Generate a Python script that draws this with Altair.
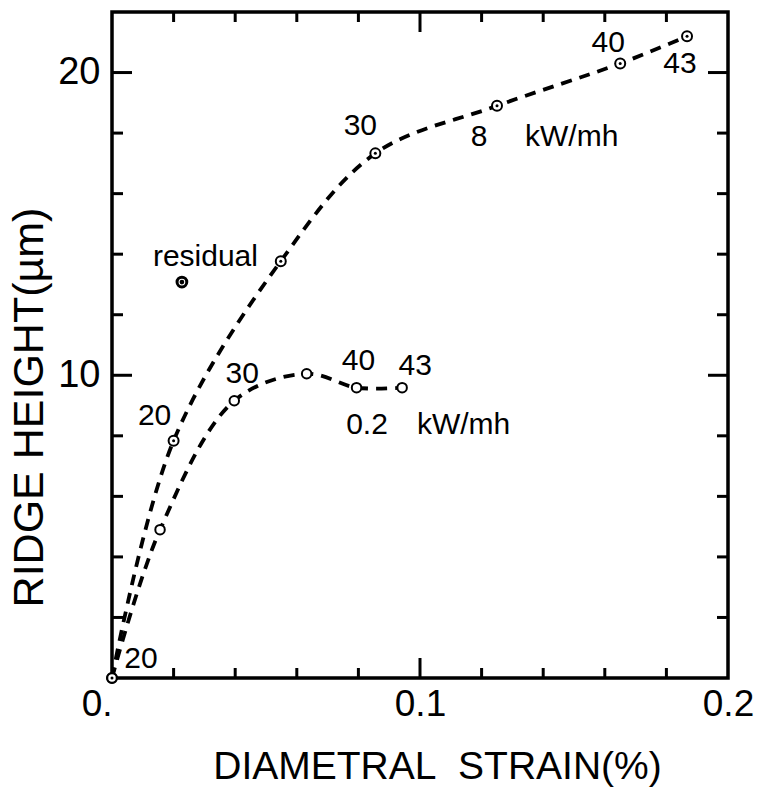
import altair as alt
import pandas as pd

# 8 kW/mh curve: diametral strain (%) vs ridge height (um)
hi_strain = [0.0, 0.0200, 0.0548, 0.0855, 0.1250, 0.1650, 0.1867]
hi_height = [0.0, 7.84, 13.77, 17.33, 18.90, 20.30, 21.20]
hi_tags = ["", "20", "", "30", "", "40", "43"]

# 0.2 kW/mh curve
lo_strain = [0.0, 0.0156, 0.0397, 0.0632, 0.0794, 0.0942]
lo_height = [0.0, 4.90, 9.16, 10.05, 9.59, 9.59]
lo_tags = ["20", "", "30", "", "40", "43"]

# residual measurement
res_strain = [0.0227]
res_height = [13.08]

# power levels written beside each curve
power_text = ["8", "0.2"]
power_strain = [0.1192, 0.0828]
power_height = [17.87, 8.36]
unit_text = ["kW/mh", "kW/mh"]
unit_strain = [0.1341, 0.0990]

x_ticks_minor = [0.02, 0.04, 0.06, 0.08, 0.12, 0.14, 0.16, 0.18]
x_ticks_major = [0.1]
y_ticks_minor = [2, 4, 6, 8, 12, 14, 16, 18]
y_ticks_major = [10, 20]

W, H = 616, 666
FONT = "Liberation Sans, sans-serif"

hi = pd.DataFrame({"strain": hi_strain, "height": hi_height, "tag": hi_tags})
lo = pd.DataFrame({"strain": lo_strain, "height": lo_height, "tag": lo_tags})
res = pd.DataFrame({"strain": res_strain, "height": res_height})

xs = alt.Scale(domain=[0, 0.2], nice=False, zero=False)
ys = alt.Scale(domain=[0, 22], nice=False, zero=False)

x_axis = alt.Axis(
    values=[0, 0.1, 0.2], labelExpr="datum.value == 0 ? '0.' : format(datum.value, '.1f')",
    labelAlign={"condition": {"test": "datum.value == 0", "value": "right"}, "value": "center"},
    domain=False, ticks=False, grid=False, labelFont=FONT, labelFontSize=37,
    labelColor="black", labelPadding=8,
    title="DIAMETRAL\u00a0 STRAIN(%)", titleFont=FONT, titleFontSize=39, titleFontWeight="normal",
    titleColor="black", titleX=325, titleY=100, titleAlign="center", titleBaseline="alphabetic",
)
y_axis = alt.Axis(
    values=[10, 20], domain=False, ticks=False, grid=False, labelFont=FONT, labelFontSize=38,
    labelColor="black", labelPadding=12, labelBaseline="middle",
    title="RIDGE HEIGHT(\u00b5m)", titleFont=FONT, titleFontSize=43, titleFontWeight="normal",
    titleColor="black", titleX=-70, titleY=395, titleAlign="center", titleBaseline="alphabetic",
    titleAngle=270,
)

X = lambda: alt.X("strain:Q", scale=xs, axis=x_axis)
Y = lambda: alt.Y("height:Q", scale=ys, axis=y_axis)

dash = dict(color="black", strokeWidth=3.8, strokeDash=[11, 8], interpolate="catmull-rom")
hi_line = alt.Chart(hi).mark_line(**dash).encode(x=X(), y=Y(), order="strain:Q")
lo_line = alt.Chart(lo).mark_line(**dash).encode(x=X(), y=Y(), order="strain:Q")

ring = dict(shape="circle", filled=True, fill="white", stroke="black", strokeWidth=2, opacity=1)
hi_pts = alt.Chart(hi).mark_point(size=100, **ring).encode(x=X(), y=Y())
lo_pts = alt.Chart(lo).mark_point(size=90, **ring).encode(x=X(), y=Y())
hi_dots = alt.Chart(hi).mark_point(shape="circle", filled=True, color="black", size=9, opacity=1).encode(x=X(), y=Y())

res_ring = alt.Chart(res).mark_point(shape="circle", filled=True, fill="white", stroke="black",
                                     strokeWidth=3, size=95, opacity=1).encode(x=X(), y=Y())
res_dot = alt.Chart(res).mark_point(shape="circle", filled=True, color="black", size=22,
                                    opacity=1).encode(x=X(), y=Y())

# temperature tags, each nudged off its point
hi_offsets = {"20": (-19, -25), "30": (-15, -27), "40": (-12, -20), "43": (-7, 28)}
lo_offsets = {"20": (29, -19), "30": (8, -27), "40": (2, -27), "43": (13, -22)}

tag_layers = []
for df, offs in ((hi, hi_offsets), (lo, lo_offsets)):
    for tag, (dx, dy) in offs.items():
        tag_layers.append(
            alt.Chart(df[df["tag"] == tag]).mark_text(
                font=FONT, fontSize=30, color="black", dx=dx, dy=dy,
                align="center", baseline="middle",
            ).encode(x=X(), y=Y(), text="tag:N")
        )

power_df = pd.DataFrame({"strain": power_strain, "height": power_height, "t": power_text})
unit_df = pd.DataFrame({"strain": unit_strain, "height": power_height, "t": unit_text})
power_lbl = alt.Chart(power_df).mark_text(font=FONT, fontSize=30, color="black",
                                          align="center", baseline="middle").encode(x=X(), y=Y(), text="t:N")
unit_lbl = alt.Chart(unit_df).mark_text(font=FONT, fontSize=30, color="black",
                                        align="left", baseline="middle").encode(x=X(), y=Y(), text="t:N")
res_lbl = alt.Chart(res).mark_text(font=FONT, fontSize=30, color="black", align="left",
                                   baseline="middle", dx=-29, dy=-25).encode(
    x=X(), y=Y(), text=alt.value("residual"))

# inward tick marks on all four sides
def xticks(vals, length):
    d = pd.DataFrame({"strain": vals})
    bottom = alt.Chart(d).mark_rule(color="black", strokeWidth=3).encode(
        x=X(), y=alt.value(H), y2=alt.value(H - length))
    top = alt.Chart(d).mark_rule(color="black", strokeWidth=3).encode(
        x=X(), y=alt.value(0), y2=alt.value(length))
    return [bottom, top]

def yticks(vals, length):
    d = pd.DataFrame({"height": vals})
    left = alt.Chart(d).mark_rule(color="black", strokeWidth=3).encode(
        y=Y(), x=alt.value(0), x2=alt.value(length))
    right = alt.Chart(d).mark_rule(color="black", strokeWidth=3).encode(
        y=Y(), x=alt.value(W), x2=alt.value(W - length))
    return [left, right]

ticks = xticks(x_ticks_minor, 10) + xticks(x_ticks_major, 20) + yticks(y_ticks_minor, 11) + yticks(y_ticks_major, 20)

chart = alt.layer(
    *ticks, hi_line, lo_line, hi_pts, lo_pts, hi_dots, res_ring, res_dot,
    *tag_layers, power_lbl, unit_lbl, res_lbl,
).properties(
    width=W, height=H,
    autosize=alt.AutoSizeParams(type="none"),
    padding={"left": 112, "top": 12, "right": 29, "bottom": 109},
    background="white",
).configure_view(stroke="black", strokeWidth=3.5)

chart.save("out.html", embed_options={"renderer": "svg", "actions": False})
